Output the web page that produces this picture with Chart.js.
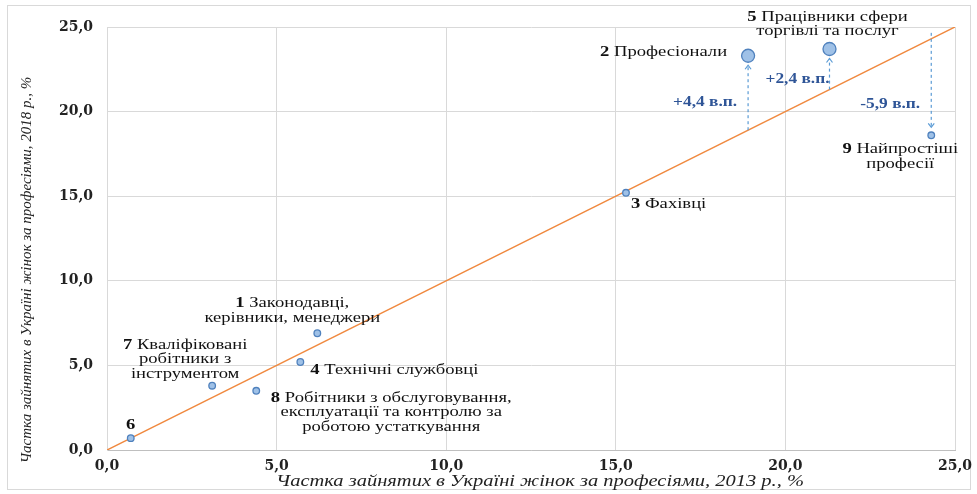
<!DOCTYPE html>
<html>
<head>
<meta charset="utf-8">
<script src="https://cdn.jsdelivr.net/npm/chart.js@4/dist/chart.umd.min.js"></script>
<style>
  body { margin: 0; background: #fff; }
  #wrap { width: 977px; height: 494px; }
</style>
</head>
<body>
<div id="wrap"><canvas id="occChart"></canvas></div>
<script>
// частка зайнятих жінок за професіями, %
var groupNums = ['1', '2', '3', '4', '5', '6', '7', '8', '9'];
var groupNames = [
  ['Законодавці,', 'керівники, менеджери'],
  ['Професіонали'],
  ['Фахівці'],
  ['Технічні службовці'],
  ['Працівники сфери', 'торгівлі та послуг'],
  [''],
  ['Кваліфіковані', 'робітники з', 'інструментом'],
  ['Робітники з обслуговування,', 'експлуатації та контролю за', 'роботою устаткування'],
  ['Найпростіші', 'професії']
];
var share2013 = [6.2, 18.9, 15.3, 5.7, 21.3, 0.7, 3.1, 4.4, 24.3];
var share2018 = [6.9, 23.3, 15.2, 5.2, 23.7, 0.7, 3.8, 3.5, 18.6];
var bigGroups = [1, 4];          // 2 і 5 - великі кружки
var shiftGroups = [1, 4, 8];     // стрілки зміни
var shiftLabels = ['+4,4 в.п.', '+2,4 в.п.', '-5,9 в.п.'];
var tickValues = [0, 5, 10, 15, 20, 25];
var xTitle = 'Частка зайнятих в Україні жінок за професіями, 2013 р., %';
var yTitle = 'Частка зайнятих в Україні жінок за професіями, 2018 р., %';

var serif = '"Liberation Serif", "Times New Roman", serif';
var wideSerif = '"DejaVu Serif", serif';
var stretch = 1.24;   // the original text is drawn a bit wider

// where the labels go, relative to their point (pixels)
var labelPos = [
  { dx: -25, dy: -30, align: 'center' },
  { dx: -21, dy: -4, align: 'right' },
  { dx: 5, dy: 11, align: 'left' },
  { dx: 10, dy: 8, align: 'left' },
  { dx: -2, dy: -32, align: 'center' },
  { dx: 0, dy: -13, align: 'center' },
  { dx: -27, dy: -41, align: 'center' },
  { dx: 135, dy: 7, align: 'center' },
  { dx: -31, dy: 14, align: 'center' }
];
var shiftPos = [
  { dx: -43, dy: 47 },
  { dx: -32, dy: 30 },
  { dx: -41, dy: -31 }
];

var points = [];
for (let i = 0; i < share2013.length; i++) {
  points.push({ x: share2013[i], y: share2018[i] });
}

function fmt(v) {
  return v.toFixed(1).replace('.', ',');
}

// text parts [{t, font}], drawn stretched horizontally
function drawParts(c, parts, x, y, align, s) {
  var ws = parts.map(function (p) { c.font = p.font; return c.measureText(p.t).width; });
  var w = ws.reduce(function (a, b) { return a + b; }, 0) * s;
  var x0 = x;
  if (align === 'center') x0 = x - w / 2;
  if (align === 'right') x0 = x - w;
  c.save();
  c.translate(x0, y);
  c.scale(s, 1);
  c.textAlign = 'left';
  var cx = 0;
  parts.forEach(function (p, k) {
    c.font = p.font;
    c.fillText(p.t, cx, 0);
    cx += ws[k];
  });
  c.restore();
}

var framePlugin = {
  id: 'frame',
  beforeDraw: function (chart) {
    var c = chart.ctx;
    c.save();
    c.fillStyle = '#fff';
    c.fillRect(0, 0, chart.width, chart.height);
    c.strokeStyle = '#d9d9d9';
    c.lineWidth = 1;
    c.strokeRect(7.5, 5.5, 963, 484);
    c.restore();
  }
};

var labelPlugin = {
  id: 'labels',
  afterDraw: function (chart) {
    var c = chart.ctx;
    var xs = chart.scales.x, ys = chart.scales.y;
    var area = chart.chartArea;
    c.save();
    c.textBaseline = 'middle';

    // axis titles
    c.fillStyle = '#222';
    drawParts(c, [{ t: xTitle, font: 'italic 16px ' + serif }], (area.left + area.right) / 2 + 9, 482, 'center', 1.28);
    c.save();
    c.translate(27, 270);
    c.rotate(-Math.PI / 2);
    c.font = 'italic 15px ' + serif;
    c.textAlign = 'center';
    c.fillText(yTitle, 0, 0);
    c.restore();

    // dashed arrows from the diagonal to the point
    c.strokeStyle = '#5b9bd5';
    c.lineWidth = 1.2;
    shiftGroups.forEach(function (g, k) {
      var px = xs.getPixelForValue(share2013[g]);
      var y0 = ys.getPixelForValue(share2013[g]);
      var y1 = ys.getPixelForValue(share2018[g]);
      var dir = y1 < y0 ? 1 : -1;
      if (dir < 0) y0 -= 6;
      var r = bigGroups.indexOf(g) >= 0 ? 9.5 : 8;
      var yEnd = y1 + dir * r;
      c.setLineDash([3, 3]);
      c.beginPath();
      c.moveTo(px, y0);
      c.lineTo(px, yEnd);
      c.stroke();
      c.setLineDash([]);
      c.beginPath();
      c.moveTo(px - 3, yEnd + dir * 4);
      c.lineTo(px, yEnd);
      c.lineTo(px + 3, yEnd + dir * 4);
      c.stroke();

      c.fillStyle = '#2f5597';
      drawParts(c, [{ t: shiftLabels[k], font: 'bold 14px ' + serif }],
        px + shiftPos[k].dx, y1 + shiftPos[k].dy, 'center', stretch);
    });

    // group labels
    c.fillStyle = '#111';
    var lh = 14.5;
    for (let i = 0; i < groupNums.length; i++) {
      var px = xs.getPixelForValue(share2013[i]) + labelPos[i].dx;
      var py = ys.getPixelForValue(share2018[i]) + labelPos[i].dy;
      var lines = groupNames[i];
      for (let j = 0; j < lines.length; j++) {
        var parts = [];
        if (j === 0) parts.push({ t: groupNums[i] + (lines[j] ? ' ' : ''), font: 'bold 15px ' + serif });
        parts.push({ t: lines[j], font: '15px ' + serif });
        drawParts(c, parts, px, py + j * lh, labelPos[i].align, stretch);
      }
    }
    c.restore();
  }
};

var ctx = document.getElementById('occChart');
var myChart = new Chart(ctx, {
  type: 'scatter',
  data: {
    datasets: [{
      label: 'Професійні групи',
      data: points,
      backgroundColor: '#9fc1e7',
      borderColor: '#4f81bd',
      borderWidth: 1.3,
      pointRadius: points.map(function (p, i) { return bigGroups.indexOf(i) >= 0 ? 6.5 : 3.3; }),
      order: 1
    }, {
      label: 'Рівність',
      data: [{ x: 0, y: 0 }, { x: 25, y: 25 }],
      showLine: true,
      borderColor: '#f0893f',
      borderWidth: 1.5,
      pointRadius: 0,
      order: 2
    }]
  },
  options: {
    responsive: true,
    maintainAspectRatio: false,
    animation: false,
    layout: { padding: { left: 8, right: 22, top: 27, bottom: 4 } },
    plugins: {
      legend: { display: false },
      tooltip: { enabled: false }
    },
    scales: {
      x: {
        type: 'linear',
        min: 0,
        max: 25,
        afterBuildTicks: function (axis) { axis.ticks = tickValues.map(function (v) { return { value: v }; }); },
        afterFit: function (axis) {
          axis.height = 40;
          axis.paddingLeft = 0;
          axis.paddingRight = 0;
        },
        grid: { color: '#d9d9d9', drawTicks: false },
        border: { color: '#bfbfbf' },
        ticks: {
          padding: 8,
          color: '#222',
          font: { family: wideSerif, size: 14, weight: 'bold' },
          maxRotation: 0,
          callback: function (v) { return fmt(v); }
        }
      },
      y: {
        type: 'linear',
        min: 0,
        max: 25,
        afterBuildTicks: function (axis) { axis.ticks = tickValues.map(function (v) { return { value: v }; }); },
        afterFit: function (axis) {
          axis.width = 99;
          axis.paddingTop = 0;
          axis.paddingBottom = 0;
        },
        grid: { color: '#d9d9d9', drawTicks: false },
        border: { color: '#d9d9d9' },
        ticks: {
          padding: 14,
          color: '#222',
          font: { family: wideSerif, size: 14, weight: 'bold' },
          callback: function (v) { return fmt(v); }
        }
      }
    }
  },
  plugins: [framePlugin, labelPlugin]
});
</script>
</body>
</html>
